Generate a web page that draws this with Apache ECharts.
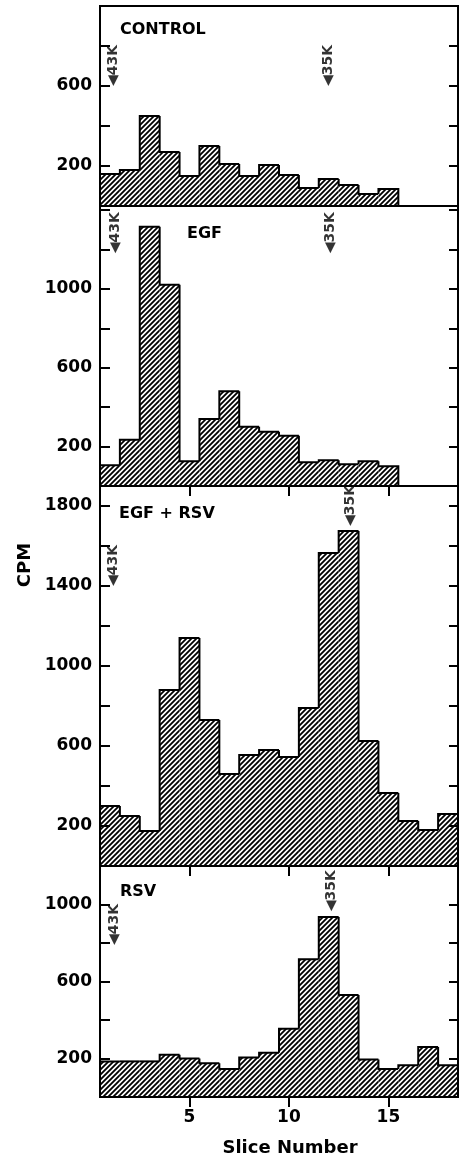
<!DOCTYPE html>
<html>
<head>
<meta charset="utf-8">
<script src="https://cdn.jsdelivr.net/npm/echarts@6/dist/echarts.min.js"></script>
<style>
  html, body { margin: 0; padding: 0; background: #fff; }
  #chart { width: 461px; height: 1158px; }
</style>
</head>
<body>
<div id="chart"></div>
<script>
// slice numbers and CPM per slice
const slices = [1, 2, 3, 4, 5, 6, 7, 8, 9, 10, 11, 12, 13, 14, 15, 16, 17, 18]
const control = [160, 180, 450, 270, 150, 300, 210, 150, 205, 155, 90, 135, 105, 60, 85]
const egf = [105, 235, 1315, 1020, 125, 340, 480, 300, 275, 255, 120, 130, 110, 125, 100]
const egfRsv = [300, 250, 175, 880, 1140, 730, 460, 555, 580, 545, 790, 1565, 1675, 625, 365, 225, 180, 260]
const rsv = [185, 185, 185, 220, 200, 175, 145, 205, 230, 355, 715, 935, 530, 195, 145, 165, 260, 165]

const panelNames = ['CONTROL', 'EGF', 'EGF + RSV', 'RSV']
const panelMax = [1000, 1420, 1900, 1200]

// labelled y ticks per panel
const controlLabels = [200, 600]
const egfLabels = [200, 600, 1000]
const egfRsvLabels = [200, 600, 1000, 1400, 1800]
const rsvLabels = [200, 600, 1000]

// size markers: [slice, CPM] of the arrow tip
const markerLabels = ['◀43K', '◀35K']
const controlMarks = [[1.15, 600], [12.0, 600]]
const egfMarks = [[1.25, 1180], [12.1, 1180]]
const egfRsvMarks = [[1.15, 1400], [13.1, 1700]]
const rsvMarks = [[1.2, 790], [12.15, 965]]

const xTicks = [5, 10, 15]

const FONT = '"DejaVu Sans", sans-serif'
const panels = [control, egf, egfRsv, rsv]
const marks = [controlMarks, egfMarks, egfRsvMarks, rsvMarks]
const yLabels = [controlLabels, egfLabels, egfRsvLabels, rsvLabels]

// layout of the stacked panels
const gridTop = [6, 206, 486, 866]
const gridHeight = [200, 280, 380, 240]
const titlePos = [[120, 30], [187, 234], [119, 514], [120, 892]]

// diagonal hatch fill
function makeHatch() {
  const s = 5
  const c = document.createElement('canvas')
  c.width = s
  c.height = s
  const g = c.getContext('2d')
  g.fillStyle = '#fff'
  g.fillRect(0, 0, s, s)
  g.strokeStyle = '#000'
  g.lineWidth = 1.8
  g.beginPath()
  g.moveTo(-1, s + 1); g.lineTo(s + 1, -1)
  g.moveTo(-1, 1); g.lineTo(1, -1)
  g.moveTo(s - 1, s + 1); g.lineTo(s + 1, s - 1)
  g.stroke()
  return c
}
const hatch = { image: makeHatch(), repeat: 'repeat' }

const line = { color: '#000', width: 2 }

const grids = gridTop.map((t, i) => ({
  left: 100,
  right: 3,
  top: t,
  height: gridHeight[i],
  show: true,
  borderColor: '#000',
  borderWidth: 2
}))

const xAxes = gridTop.map((t, i) => ({
  gridIndex: i,
  type: 'value',
  position: 'top',
  min: 0.5,
  max: 18.5,
  z: 5,
  axisLine: { show: true, lineStyle: line },
  axisTick: { show: i > 0, inside: true, length: 10, customValues: xTicks, lineStyle: line },
  axisLabel: { show: false },
  splitLine: { show: false }
}))
// bottom axis of the last panel carries the labels
xAxes.push({
  gridIndex: 3,
  type: 'value',
  position: 'bottom',
  min: 0.5,
  max: 18.5,
  z: 5,
  name: 'Slice Number',
  nameLocation: 'middle',
  nameGap: 42,
  nameTextStyle: { fontSize: 18, fontWeight: 'bold', color: '#000', fontFamily: FONT, padding: [0, 0, 0, 22] },
  axisLine: { show: true, lineStyle: line },
  axisTick: { show: true, length: 8, customValues: xTicks, lineStyle: line },
  axisLabel: { show: true, customValues: xTicks, margin: 12, fontSize: 17, fontWeight: 'bold', color: '#000', fontFamily: FONT },
  splitLine: { show: false }
})

const yAxes = []
gridTop.forEach((t, i) => {
  yAxes.push({
    gridIndex: i,
    type: 'value',
    min: 0,
    max: panelMax[i],
    interval: 200,
    z: 5,
    axisLine: { show: true, lineStyle: line },
    axisTick: { show: true, inside: true, length: 10, lineStyle: line },
    axisLabel: {
      margin: 8,
      fontSize: 17,
      fontWeight: 'bold',
      color: '#000',
      fontFamily: FONT,
      formatter: v => (yLabels[i].includes(v) ? String(v) : '')
    },
    splitLine: { show: false }
  })
  yAxes.push({
    gridIndex: i,
    type: 'value',
    position: 'right',
    min: 0,
    max: panelMax[i],
    interval: 200,
    z: 5,
    axisLine: { show: true, lineStyle: line },
    axisTick: { show: true, inside: true, length: 9, lineStyle: line },
    axisLabel: { show: false },
    splitLine: { show: false }
  })
})

function histSeries(values, i) {
  return {
    type: 'custom',
    xAxisIndex: i,
    yAxisIndex: i * 2,
    silent: true,
    data: values.map((v, k) => [slices[k], v]),
    renderItem: function (params, api) {
      const k = params.dataIndex
      const x = api.value(0)
      const v = api.value(1)
      const prev = k > 0 ? values[k - 1] : 0
      const tl = api.coord([x - 0.5, v])
      const br = api.coord([x + 0.5, 0])
      const pts = [api.coord([x - 0.5, prev]), tl, api.coord([x + 0.5, v])]
      if (k === values.length - 1) pts.push(br)
      return {
        type: 'group',
        children: [
          {
            type: 'rect',
            shape: { x: tl[0], y: tl[1], width: br[0] - tl[0], height: br[1] - tl[1] },
            style: { fill: hatch }
          },
          {
            type: 'polyline',
            shape: { points: pts },
            style: { stroke: '#000', lineWidth: 2, fill: null }
          }
        ]
      }
    }
  }
}

function markSeries(data, i) {
  return {
    type: 'scatter',
    xAxisIndex: i,
    yAxisIndex: i * 2,
    silent: true,
    symbolSize: 0,
    data: data,
    label: {
      show: true,
      position: 'inside',
      rotate: 90,
      align: 'left',
      verticalAlign: 'middle',
      fontSize: 14,
      fontWeight: 'bold',
      color: '#000',
      fontFamily: FONT,
      formatter: p => markerLabels[p.dataIndex]
    }
  }
}

const series = []
panels.forEach((vals, i) => {
  series.push(histSeries(vals, i))
  series.push(markSeries(marks[i], i))
})

const graphic = panelNames.map((name, i) => ({
  type: 'text',
  x: titlePos[i][0],
  y: titlePos[i][1],
  z: 10,
  style: { text: name, font: 'bold 16px ' + FONT, fill: '#000', verticalAlign: 'middle' }
}))
graphic.push({
  type: 'text',
  x: 25,
  y: 565,
  rotation: Math.PI / 2,
  style: { text: 'CPM', font: 'bold 18px ' + FONT, fill: '#000', align: 'center', verticalAlign: 'middle' }
})

const option = {
  backgroundColor: '#fff',
  animation: false,
  grid: grids,
  xAxis: xAxes,
  yAxis: yAxes,
  graphic: graphic,
  series: series
}

const chart = echarts.init(document.getElementById('chart'), null, { renderer: 'canvas' })
chart.setOption(option)

window.addEventListener('resize', () => {
  chart.resize()
})
</script>
</body>
</html>
